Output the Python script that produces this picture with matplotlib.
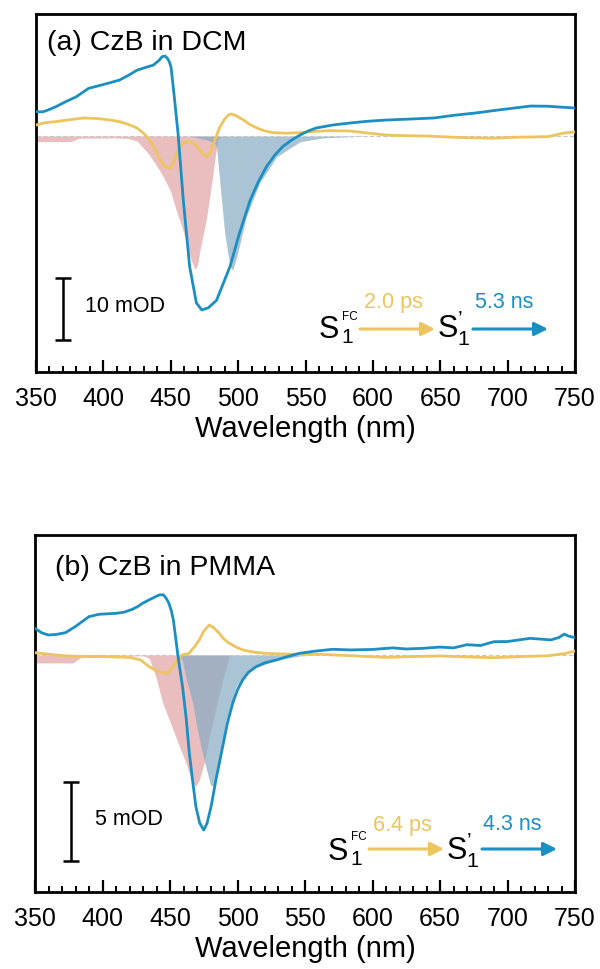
import matplotlib
matplotlib.use("Agg")
import matplotlib.pyplot as plt
from matplotlib.ticker import MultipleLocator
from matplotlib.patches import FancyArrowPatch

plt.rcParams['font.family'] = ['Liberation Sans', 'DejaVu Sans']
plt.rcParams['mathtext.fontset'] = 'custom'
plt.rcParams['mathtext.rm'] = 'Liberation Sans'
plt.rcParams['mathtext.it'] = 'Liberation Sans:italic'
plt.rcParams['mathtext.bf'] = 'Liberation Sans:bold'

# ---------------- data: panel (a) CzB in DCM ----------------
wl_blue_a = [350, 355, 359, 365, 372, 380, 389, 398.5, 405, 412, 418, 425, 433, 437, 441, 443.6, 445.7,
             447.5, 449, 450.2, 451.5, 452.9, 455.5, 459.3, 464, 469, 473, 477.9, 484, 489, 494, 501,
             509, 515, 521, 527, 533, 540, 546, 552, 558, 570, 583, 596, 610, 627, 645, 660, 676, 695,
             717, 730, 740, 750]
blue_a = [3.88, 3.85, 4.15, 4.7, 5.47, 6.27, 7.6, 8.13, 8.5, 8.93, 9.6, 10.5, 11.05, 11.3, 12.0, 12.65, 12.76,
          12.4, 11.8, 11.0, 8.5, 5.7, 0.2, -10.2, -20.8, -26.6, -27.75, -27.4, -26.2, -23.5, -20.8, -15.5,
          -10.2, -7.3, -4.9, -3.1, -1.7, -0.6, 0.16, 0.8, 1.28, 1.75, 2.07, 2.35, 2.55, 2.7, 2.87, 3.3, 3.67, 4.2,
          4.78, 4.75, 4.6, 4.47]

wl_yel_a = [350, 356, 365, 375, 385, 395, 405, 412, 418, 425, 430, 434.6, 438, 442, 446, 449.4, 452, 454.5,
            456.9, 460, 464, 468, 471.7, 474, 476.7, 478.5, 480, 483, 486.5, 490, 493, 495, 498, 504, 509,
            514, 520, 526, 535, 546, 558, 568, 583, 595, 610, 625, 640, 660, 676, 690, 705, 717, 730, 742, 750]
yel_a = [1.75, 2.1, 2.3, 2.6, 2.87, 2.8, 2.55, 2.28, 1.9, 1.28, 0.4, -0.64, -2.0, -3.83, -4.9, -5.1, -4.3, -2.8,
         -1.7, -1.0, -0.9, -1.3, -2.23, -2.9, -3.3, -3.0, -2.23, -0.5, 1.48, 2.7, 3.4, 3.5, 3.3, 2.55, 1.8,
         1.28, 0.8, 0.53, 0.45, 0.53, 0.75, 0.85, 0.8, 0.5, 0.16, 0.05, 0.0, -0.2, -0.3, -0.35, -0.2, -0.16, -0.1, 0.48, 0.64]

wl_pink_a = [350, 376, 382, 410, 418, 425, 433, 440, 444.5, 450, 454, 458, 461.8, 465, 468, 470, 471.7,
             474, 476.7, 480.4, 483, 485, 487, 750]
pink_a = [-0.9, -0.9, -0.35, -0.3, -0.4, -0.8, -2.7, -4.9, -6.5, -8.9, -11.8, -14.3, -17.1, -19.7, -21.3, -20.5, -18.2,
          -15.8, -12.9, -7.5, -3.3, -0.6, 0.0, 0.0]

wl_bfill_a = [350, 465, 470, 476, 482, 484, 486.5, 490, 494, 496, 499, 506, 516, 528.6, 546, 563, 585, 600, 750]
bfill_a = [0.0, 0.0, -0.3, -0.6, -1.0, -1.7, -7.5, -15.5, -20.8, -21.4, -19.3, -12.9, -7.5, -3.3, -0.9, -0.3, -0.1, 0.0, 0.0]

# ---------------- data: panel (b) CzB in PMMA ----------------
wl_blue_b = [350, 355, 360, 366, 372.6, 380, 390, 397.5, 404, 410, 416, 422, 426, 429.6, 435, 442, 445, 447,
             449, 451, 452.5, 454.4, 455.6, 457.5, 459.3, 462, 464.3, 467, 469.2, 472, 475, 477.5, 480.4, 484,
             489, 492.5, 496.4, 500, 503.8, 508, 513.7, 520, 528.6, 537, 546, 558, 570.5, 584, 600, 615, 625,
             637, 650, 660, 670, 680, 690, 700, 716.6, 725, 732, 738, 742, 745, 748.6, 750]
blue_b = [1.68, 1.4, 1.26, 1.3, 1.41, 1.8, 2.42, 2.57, 2.6, 2.63, 2.7, 2.88, 3.05, 3.26, 3.5, 3.79, 3.8, 3.6,
          3.3, 2.8, 2.2, 0.95, 0.13, -1.0, -2.0, -4.0, -6.18, -8.1, -9.57, -10.6, -11.04, -10.6, -9.57, -7.89,
          -5.79, -4.3, -3.05, -2.2, -1.58, -1.1, -0.74, -0.5, -0.32, -0.1, 0.11, 0.25, 0.36, 0.32, 0.35, 0.45, 0.38,
          0.42, 0.5, 0.45, 0.65, 0.6, 0.84, 0.85, 1.05, 1.0, 0.95, 1.1, 1.32, 1.2, 1.12, 1.1]

wl_yel_b = [350, 360, 372, 385, 400, 420, 428, 434.6, 440, 445, 448, 451, 454, 456.5, 459, 464, 468, 471.7,
            475, 479, 482, 486.5, 490, 494, 499, 504, 512, 521, 540, 560, 585, 610, 630, 650, 670, 690, 710,
            730, 743, 750]
yel_b = [0.15, 0.05, -0.05, -0.1, -0.1, -0.15, -0.3, -0.74, -1.0, -1.12, -1.15, -0.9, -0.52, -0.2, 0.0, 0.1, 0.5, 0.95,
         1.5, 1.89, 1.75, 1.37, 1.0, 0.74, 0.5, 0.32, 0.18, 0.1, 0.05, 0.05, -0.05, -0.15, -0.1, -0.06, -0.12, -0.17, -0.1,
         -0.05, 0.1, 0.25]

wl_pink_b = [350, 378, 385, 430, 434.6, 440, 444.5, 450, 454.4, 458, 461.8, 466, 469, 471.7, 475.4, 479, 484,
             489, 494, 750]
pink_b = [-0.5, -0.5, -0.1, -0.05, -0.2, -1.5, -3.0, -4.2, -5.2, -6.0, -6.8, -7.9, -8.3, -7.9, -6.8, -5.2, -3.3,
          -1.6, 0.0, 0.0]

wl_bfill_b = [350, 455, 459, 462, 466.7, 470, 474, 480, 483, 486.5, 491.5, 499, 509, 528.6, 546, 560, 750]
bfill_b = [0.0, 0.0, -0.3, -1.5, -3.0, -4.6, -6.2, -8.2, -8.3, -6.8, -4.1, -2.0, -0.95, -0.32, -0.06, 0.0, 0.0]

# ---------------- style ----------------
C_BLUE = '#1b8ec2'
C_YEL = '#edc45e'
C_PINK = '#e2a2a5'
C_BF = '#86abc4'
W, H = 600, 969


def fx(px):
    return px / W


def fy(py):
    return 1 - py / H


fig = plt.figure(figsize=(6.0, 9.69), dpi=100)

panels = [
    dict(rect=[36, 14, 575, 372], ylim=(-37.64, 19.46),
         wb=wl_blue_a, b=blue_a, wy=wl_yel_a, y=yel_a, wp=wl_pink_a, p=pink_a, wf=wl_bfill_a, f=bfill_a,
         title='(a) CzB in DCM', tpos=(358.2, 14.83), bar=(370, -27.6, 5.0), barlab='10 mOD', barlabpos=(386.4, -27.2)),
    dict(rect=[35, 535, 575, 892], ylim=(-14.95, 7.57),
         wb=wl_blue_b, b=blue_b, wy=wl_yel_b, y=yel_b, wp=wl_pink_b, p=pink_b, wf=wl_bfill_b, f=bfill_b,
         title='(b) CzB in PMMA', tpos=(364.8, 5.49), bar=(376.4, -10.5, 2.5), barlab='5 mOD', barlabpos=(394.8, -10.35)),
]

axes = []
for P in panels:
    l, t, r, b = P['rect']
    ax = fig.add_axes([fx(l), fy(b), (r - l) / W, (b - t) / H])
    axes.append(ax)
    ax.fill_between(P['wp'], P['p'], 0, color=C_PINK, alpha=0.7, lw=0, zorder=1)
    ax.fill_between(P['wf'], P['f'], 0, color=C_BF, alpha=0.7, lw=0, zorder=2)
    ax.axhline(0, color='#c8c8c8', lw=0.8, ls=(0, (4, 2)), zorder=2.5)
    ax.plot(P['wy'], P['y'], color=C_YEL, lw=2.0, zorder=3)
    ax.plot(P['wb'], P['b'], color=C_BLUE, lw=2.0, zorder=4)
    ax.set_xlim(350, 750)
    ax.set_ylim(*P['ylim'])
    ax.xaxis.set_major_locator(MultipleLocator(50))
    ax.xaxis.set_minor_locator(MultipleLocator(10))
    ax.tick_params(axis='x', which='major', direction='in', length=8.6, width=1.6, labelsize=18, pad=11)
    ax.tick_params(axis='x', which='minor', direction='in', length=4.3, width=1.4)
    ax.tick_params(axis='y', left=False, labelleft=False, which='both')
    for s in ax.spines.values():
        s.set_linewidth(2.0)
    ax.set_xlabel('Wavelength (nm)', fontsize=21, labelpad=3)
    ax.text(P['tpos'][0], P['tpos'][1], P['title'], fontsize=20.5, ha='left', va='center')
    bx, by, be = P['bar']
    ax.errorbar([bx], [by], yerr=[be], fmt='none', ecolor='black', elinewidth=1.8, capsize=6, capthick=1.8)
    ax.text(P['barlabpos'][0], P['barlabpos'][1], P['barlab'], fontsize=15.5, ha='left', va='center')

# kinetic schemes (figure-pixel positions)
schemes = [
    dict(s1x=319, base=338, subb=343, supb=320, a1=(360, 435), arry=329, t1=('2.0 ps', 393.5), ty=302.7,
         s2x=437, a2=(473, 548), t2=('5.3 ns', 504.5)),
    dict(s1x=328, base=860, subb=865, supb=840, a1=(369, 444), arry=849, t1=('6.4 ps', 402.5), ty=825,
         s2x=446, a2=(482, 557), t2=('4.3 ns', 512)),
]
S1P_LABEL = 'S$_\\mathrm{1}^\\mathrm{\u2019}$'
for S in schemes:
    fig.text(fx(S['s1x']), fy(S['base']), 'S', fontsize=22, va='baseline', ha='left')
    fig.text(fx(S['s1x'] + 22), fy(S['subb']), '1', fontsize=15, va='baseline', ha='left')
    fig.text(fx(S['s1x'] + 23), fy(S['supb']), 'FC', fontsize=8.5, va='baseline', ha='left')
    fig.text(fx(S['s2x']), fy(S['base']), S1P_LABEL, fontsize=22, va='baseline', ha='left')
    for (x0, x1), col, (lab, cx) in [(S['a1'], C_YEL, S['t1']), (S['a2'], C_BLUE, S['t2'])]:
        arr = FancyArrowPatch((fx(x0), fy(S['arry'])), (fx(x1), fy(S['arry'])),
                              transform=fig.transFigure, arrowstyle='-|>', color=col, lw=2.2,
                              mutation_scale=20, shrinkA=0, shrinkB=0)
        fig.add_artist(arr)
        fig.text(fx(cx), fy(S['ty']), lab, fontsize=15.5, color=col, ha='center', va='center')

fig.savefig('out.png', dpi=100)
